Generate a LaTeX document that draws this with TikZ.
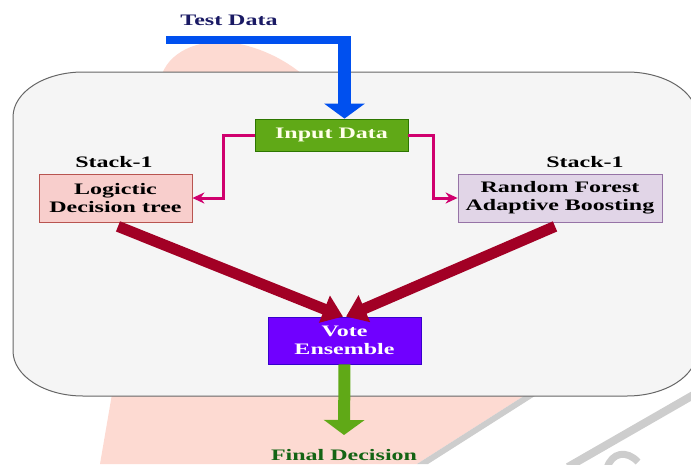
\documentclass[tikz,border=0pt]{standalone}
\usepackage{fontspec}
\setmainfont{Liberation Serif}[FakeStretch=1.5]
\usetikzlibrary{arrows.meta}
\definecolor{tdblue}{RGB}{26,26,100}
\definecolor{bluearr}{RGB}{0,80,239}
\definecolor{greenF}{RGB}{96,169,23}
\definecolor{greenD}{RGB}{45,118,0}
\definecolor{lgfill}{RGB}{248,206,204}
\definecolor{lgdraw}{RGB}{184,84,80}
\definecolor{rffill}{RGB}{225,213,231}
\definecolor{rfdraw}{RGB}{150,115,166}
\definecolor{vtfill}{RGB}{112,0,255}
\definecolor{vtdraw}{RGB}{55,0,204}
\definecolor{darkredarr}{RGB}{162,0,37}
\definecolor{magarr}{RGB}{208,0,110}
\definecolor{fdgreen}{RGB}{20,100,20}
\definecolor{boxfill}{RGB}{245,245,245}
\definecolor{boxdraw}{RGB}{102,102,102}
\definecolor{wmpink}{RGB}{253,218,210}
\definecolor{wmgrey}{RGB}{205,205,205}
\definecolor{intext}{RGB}{255,255,232}
\begin{document}
\begin{tikzpicture}[x=1pt,y=-1pt,
  every node/.style={font=\fontsize{16}{18}\selectfont\bfseries, align=center, inner sep=0pt},
  boxnode/.style={draw, line width=0.8pt, minimum height=48pt},
  magline/.style={draw=magarr, line width=3pt, -{Stealth[length=12pt,width=11pt]}},
  redline/.style={draw=darkredarr, line width=11pt, -{Triangle[width=28pt,length=20pt]}},
]
\useasboundingbox (0,0) rectangle (691,464);
% watermark
\fill[wmpink] (162,74) .. controls (172,48) and (205,38) .. (235,43) .. controls (262,48) and (285,60) .. (302,74) -- cycle;
\fill[wmpink] (112,394) -- (100,464) -- (417,464) -- (527,394) -- cycle;
\fill[wmgrey] (527,394) -- (538,394) -- (428,464) -- (417,464) -- cycle;
\draw[wmgrey, line width=8pt] (702,390) -- (568,467);
\draw[wmgrey, line width=7pt] (607,468) .. controls (612,452) and (627,450) .. (638,462);
% big rounded panel
\draw[fill=boxfill, draw=boxdraw, line width=1pt]
  (83,72) -- (627,72) .. controls (665.6,72) and (697,92.2) .. (697,117)
  -- (697,351) .. controls (697,375.8) and (665.6,396) .. (627,396)
  -- (83,396) .. controls (44.4,396) and (13,375.8) .. (13,351)
  -- (13,117) .. controls (13,92.2) and (44.4,72) .. (83,72) -- cycle;
% nodes
\node[text=tdblue] (td) at (229,20) {Test Data};
\node[draw=greenD, fill=greenF, line width=0.8pt, minimum width=153pt, minimum height=32pt, text=intext] (in) at (331.5,135) {Input Data};
\node (s1) at (114,162) {Stack-1};
\node (s2) at (585,162) {Stack-1};
\node[boxnode, draw=lgdraw, fill=lgfill, minimum width=153pt] (lg) at (115.5,198) {Logictic\\Decision tree};
\node[boxnode, draw=rfdraw, fill=rffill, minimum width=204pt] (rf) at (560,198) {Random Forest\\Adaptive Boosting};
\node[boxnode, draw=vtdraw, fill=vtfill, minimum width=153pt, minimum height=47pt, text=white] (vt) at (344.5,340.5) {Vote\\Ensemble};
\node[text=fdgreen] (fd) at (344,455) {Final Decision};
% blue input arrow
\coordinate (tstart) at (166,40);
\coordinate (bin) at ([xshift=13pt]in.north);
\coordinate (tc) at (bin |- tstart);
\draw[bluearr, line width=8pt] (tstart) -- ([xshift=6.5pt]tc);
\draw[bluearr, line width=13pt, -{Triangle[width=40pt,length=15pt]}] ([yshift=4pt]tc) -- (bin);
% magenta connectors
\coordinate (mL) at (223,0);
\coordinate (mR) at (433,0);
\draw[magline] (in.west) -| (mL |- lg.east) -- (lg.east);
\draw[magline] (in.east) -| (mR |- rf.west) -- (rf.west);
% dark red arrows
\draw[redline] ([xshift=2.5pt,yshift=-4pt]lg.south) -- ([xshift=-1.5pt]vt.north);
\draw[redline] ([xshift=-5pt,yshift=-4pt]rf.south) -- ([xshift=1.5pt]vt.north);
% green output arrow
\coordinate (gtip) at (344,435);
\draw[greenF, line width=12pt, -{Triangle[width=40pt,length=15pt]}] (vt.south) -- (gtip);
\end{tikzpicture}
\end{document}
